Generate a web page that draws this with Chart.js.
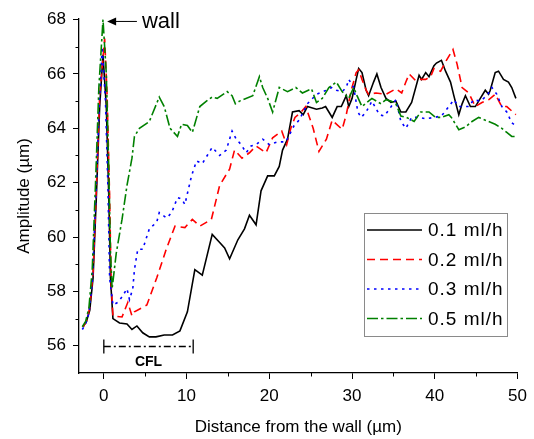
<!DOCTYPE html>
<html>
<head>
<meta charset="utf-8">
<script src="https://cdn.jsdelivr.net/npm/chart.js@4"></script>
<style>
  html, body { margin: 0; padding: 0; background: #fff; }
</style>
</head>
<body>
<canvas id="chart" width="534" height="439"></canvas>
<script>
// flow rates shown in the legend
const seriesNames = ["0.1 ml/h", "0.2 ml/h", "0.3 ml/h", "0.5 ml/h"];

// 0.1 ml/h
const x01 = [-2.5,-2.1,-1.7,-1.3,-0.9,-0.5,-0.1,0.3,0.6,0.8,1.1,1.9,2.8,3.4,4.0,4.7,5.5,6.3,7.3,8.3,9.2,10.1,11.0,11.9,13.1,14.0,14.6,15.2,16.2,17.0,17.6,18.4,19.0,19.8,20.6,21.2,21.6,22.2,22.8,23.6,24.1,24.6,25.7,26.4,26.8,27.2,27.6,28.2,28.7,29.0,29.3,29.6,30.0,30.5,30.8,31.2,31.7,32.0,32.6,33.0,33.5,34.1,34.7,35.3,35.9,36.5,37.2,38.1,38.4,38.9,39.3,39.9,40.2,40.8,41.3,41.9,42.3,42.9,43.3,43.7,44.3,44.9,45.5,46.1,46.5,46.7,47.3,47.7,48.3,48.9,49.3,49.8];
const y01 = [56.7,56.9,57.3,58.5,61.5,64.8,66.7,64.8,61.5,58.5,57.0,56.84,56.8,56.6,56.73,56.48,56.33,56.33,56.4,56.4,56.55,57.25,58.8,58.6,60.1,59.8,59.6,59.2,59.9,60.3,60.8,60.45,61.7,62.25,62.25,62.6,63.2,63.6,64.6,64.65,64.5,64.8,64.7,64.75,64.8,64.6,64.4,64.8,64.8,65.0,65.2,64.8,65.1,65.8,66.2,66.05,65.4,65.2,65.7,66.0,65.5,65.1,64.95,65.0,64.6,64.6,64.95,65.95,65.8,66.05,65.9,66.3,66.4,66.5,66.1,65.7,65.2,64.5,64.9,65.2,64.8,64.8,65.1,65.4,65.25,65.4,66.05,66.1,65.8,65.7,65.5,65.1];

// 0.2 ml/h
const x02 = [-2.5,-2.1,-1.7,-1.3,-0.9,-0.5,0.1,0.4,0.7,0.9,1.1,2.2,2.9,3.4,3.7,4.6,5.2,6.4,7.6,8.6,9.8,10.7,11.6,13.0,14.0,15.2,15.8,16.7,17.6,18.4,19.6,20.4,21.5,22.1,22.6,23.1,23.7,24.4,25.3,26.0,26.9,27.6,28.8,29.3,29.9,30.5,30.8,31.2,31.7,32.0,32.9,34.1,35.3,36.0,36.5,36.9,37.7,38.3,38.9,39.5,39.9,40.7,41.4,42.2,42.7,43.3,44.1,44.9,45.7,46.5,47.3,48.1,48.7,49.8];
const y02 = [56.7,56.9,57.4,58.7,61.8,65.2,67.3,65.2,61.5,58.2,57.1,57.06,57.6,57.1,57.25,57.4,57.5,58.5,59.6,60.4,60.35,60.65,60.4,60.65,61.9,62.5,63.2,62.9,63.1,63.35,63.1,63.65,63.9,63.4,64.0,64.4,64.55,64.8,64.0,63.15,63.6,64.3,63.96,64.5,65.4,66.05,66.15,65.8,65.4,65.25,65.3,65.25,65.45,65.3,65.7,66.0,65.75,65.8,65.8,65.9,66.2,66.1,66.5,66.9,66.35,65.5,65.3,64.8,64.95,65.05,65.25,64.8,64.8,64.5];

// 0.3 ml/h
const x03 = [-2.6,-2.2,-1.8,-1.4,-1.0,-0.6,-0.2,0.2,0.5,0.7,1.1,1.7,2.2,2.8,3.1,3.5,3.7,4.1,4.7,5.5,6.4,6.7,7.6,8.2,8.9,9.4,9.8,10.1,10.6,11.2,11.9,12.5,13.1,14.0,14.8,15.5,16.0,16.6,17.2,17.8,18.4,19.2,20.0,21.0,22.0,23.0,23.6,24.6,25.7,26.9,27.5,28.1,28.8,29.3,29.6,30.2,30.7,31.1,31.7,32.4,33.3,33.9,34.5,35.3,35.9,36.5,37.2,38.1,38.9,39.9,40.8,41.7,42.3,42.9,44.1,44.7,45.5,46.3,46.9,47.5,48.1,48.7,49.3,49.8];
const y03 = [56.6,56.8,57.2,58.3,61.2,64.5,67.0,65.0,61.8,58.5,57.5,57.6,57.8,58.1,57.7,58.1,58.8,59.55,59.55,60.3,60.55,60.9,60.7,60.9,61.45,61.4,61.2,61.6,62.25,62.8,62.7,63.0,63.3,63.0,63.2,63.9,63.6,63.4,63.1,63.35,63.4,63.6,63.4,63.5,63.5,64.1,64.3,64.9,65.25,65.4,65.5,65.4,65.35,65.5,65.8,65.5,64.6,64.4,64.6,65.0,64.5,64.45,64.7,65.05,64.25,64.0,64.4,64.4,64.35,64.4,64.45,64.8,65.05,64.8,64.8,65.05,65.0,65.2,65.5,65.25,64.8,64.6,64.2,64.1];

// 0.5 ml/h
const x05 = [-2.6,-2.2,-1.8,-1.4,-1.0,-0.6,-0.1,0.3,0.6,0.8,1.0,1.5,2.2,2.8,3.4,3.7,4.3,5.5,6.7,7.3,8.0,8.9,9.4,10.1,10.7,11.6,12.4,13.1,13.7,14.9,15.5,15.9,16.4,18.0,18.8,19.2,19.8,20.4,21.2,22.2,23.2,24.0,25.1,25.7,26.4,27.2,28.1,28.8,29.6,30.2,30.6,31.2,31.8,32.4,33.5,34.1,34.7,35.3,35.9,36.6,37.5,38.3,39.3,40.1,40.8,41.7,42.0,42.5,42.9,43.7,44.5,45.3,46.5,47.3,48.1,48.7,49.3,49.8];
const y05 = [56.7,56.9,57.4,58.8,62.0,65.5,68.0,66.0,62.5,59.5,58.1,59.4,60.65,61.9,62.9,63.7,64.0,64.25,65.15,64.8,64.0,63.7,64.15,64.1,63.85,64.8,65.0,65.15,65.1,65.35,65.2,64.9,65.0,65.2,65.9,65.5,65.1,64.6,65.5,65.35,65.5,65.3,65.45,64.95,65.1,65.5,65.7,65.35,65.1,65.5,65.2,64.8,64.95,65.1,64.9,65.05,65.0,64.9,64.45,64.4,64.25,64.6,64.6,64.4,64.4,64.5,64.4,64.15,63.95,64.05,64.25,64.4,64.25,64.15,64.0,63.85,63.7,63.7];

// axis ticks
const xTicks = [0, 10, 20, 30, 40, 50];
const xMinorTicks = [5, 15, 25, 35, 45];
const yTicks = [56, 58, 60, 62, 64, 66, 68];
const yMinorTicks = [57, 59, 61, 63, 65, 67];

// annotations (data units)
const wallArrow = { x0: 0.4, x1: 4.0, y: 67.93, label: "wall", labelX: 4.6 };
const cflBar = { x0: 0, x1: 10.8, y: 56.0, label: "CFL" };

const FONT = "Arial, 'Liberation Sans', sans-serif";
const colors = ["#000000", "#ff0000", "#0000ff", "#008000"];
const dashes = [[], [8, 5], [2.5, 4.5], [11, 3, 2.5, 3]];
const xs = [x01, x02, x03, x05];
const ys = [y01, y02, y03, y05];

const datasets = seriesNames.map((name, i) => ({
  label: name,
  data: xs[i].map((x, j) => ({ x: x, y: ys[i][j] })),
  borderColor: colors[i],
  borderDash: dashes[i],
  borderWidth: 1.6,
  pointRadius: 0,
  tension: 0,
  fill: false,
  clip: 6,
  order: 4 - i
}));

const extras = {
  id: "extras",
  afterDraw(chart) {
    const ctx = chart.ctx;
    const sx = chart.scales.x, sy = chart.scales.y;
    const ca = chart.chartArea;
    ctx.save();

    // minor ticks
    ctx.strokeStyle = "#000";
    ctx.lineWidth = 1;
    ctx.beginPath();
    xMinorTicks.forEach(v => {
      const px = Math.round(sx.getPixelForValue(v)) + 0.5;
      ctx.moveTo(px, ca.bottom);
      ctx.lineTo(px, ca.bottom + 3.5);
    });
    yMinorTicks.forEach(v => {
      const py = Math.round(sy.getPixelForValue(v)) + 0.5;
      ctx.moveTo(ca.left, py);
      ctx.lineTo(ca.left - 3.5, py);
    });
    ctx.stroke();

    // wall arrow
    const ax0 = sx.getPixelForValue(wallArrow.x0);
    const ax1 = sx.getPixelForValue(wallArrow.x1);
    const ay = sy.getPixelForValue(wallArrow.y);
    ctx.beginPath();
    ctx.moveTo(ax0 + 7, ay);
    ctx.lineTo(ax1, ay);
    ctx.stroke();
    ctx.beginPath();
    ctx.moveTo(ax0, ay);
    ctx.lineTo(ax0 + 9, ay - 4);
    ctx.lineTo(ax0 + 9, ay + 4);
    ctx.closePath();
    ctx.fillStyle = "#000";
    ctx.fill();
    ctx.font = "22px " + FONT;
    ctx.textBaseline = "middle";
    ctx.textAlign = "left";
    ctx.fillText(wallArrow.label, sx.getPixelForValue(wallArrow.labelX), ay);

    // CFL bar
    const c0 = sx.getPixelForValue(cflBar.x0);
    const c1 = sx.getPixelForValue(cflBar.x1);
    const cy = Math.round(sy.getPixelForValue(cflBar.y)) + 0.5;
    ctx.lineWidth = 1.3;
    ctx.beginPath();
    ctx.moveTo(c0, cy - 7); ctx.lineTo(c0, cy + 7);
    ctx.moveTo(c1, cy - 7); ctx.lineTo(c1, cy + 7);
    ctx.stroke();
    ctx.setLineDash([7, 3, 2, 3]);
    ctx.beginPath();
    ctx.moveTo(c0, cy); ctx.lineTo(c1, cy);
    ctx.stroke();
    ctx.setLineDash([]);
    ctx.font = "bold 14px " + FONT;
    ctx.textAlign = "center";
    ctx.fillText(cflBar.label, (c0 + c1) / 2, cy + 16);

    // legend
    const bx = ca.left + 285, by = ca.top + 194, bw = 143, bh = 123;
    ctx.fillStyle = "#fff";
    ctx.fillRect(bx, by, bw, bh);
    ctx.strokeStyle = "#8a8a8a";
    ctx.lineWidth = 1;
    ctx.strokeRect(bx + 0.5, by + 0.5, bw, bh);
    ctx.font = "19px " + FONT;
    ctx.letterSpacing = "1px";
    ctx.textAlign = "left";
    ctx.textBaseline = "middle";
    chart.data.datasets.forEach((ds, i) => {
      const ry = by + 17 + i * 29.5;
      ctx.strokeStyle = ds.borderColor;
      ctx.lineWidth = 1.6;
      ctx.setLineDash(ds.borderDash);
      ctx.beginPath();
      ctx.moveTo(bx + 3, ry);
      ctx.lineTo(bx + 58, ry);
      ctx.stroke();
      ctx.setLineDash([]);
      ctx.fillStyle = "#000";
      ctx.fillText(ds.label, bx + 64, ry + 1);
    });
    ctx.letterSpacing = "0px";
    ctx.restore();
  }
};

new Chart(document.getElementById("chart"), {
  type: "line",
  data: { datasets: datasets },
  options: {
    responsive: false,
    animation: false,
    layout: { padding: { top: 19, right: 15, left: 0, bottom: 0 } },
    plugins: { legend: { display: false }, tooltip: { enabled: false } },
    scales: {
      x: {
        type: "linear",
        min: -3,
        max: 50,
        afterBuildTicks: s => { s.ticks = xTicks.map(v => ({ value: v })); },
        afterFit: s => { s.height = 66; },
        grid: { drawOnChartArea: false, color: "#000", tickLength: 6, lineWidth: 1 },
        border: { color: "#000", width: 1.3 },
        ticks: { color: "#000", font: { family: FONT, size: 17 }, padding: 7, maxRotation: 0 },
        title: { display: true, text: "Distance from the wall (µm)", color: "#000",
                 font: { family: FONT, size: 17 }, padding: { top: 4, bottom: 1 } }
      },
      y: {
        min: 55,
        max: 68.02,
        afterBuildTicks: s => { s.ticks = yTicks.map(v => ({ value: v })); },
        afterFit: s => { s.width = 79; },
        grid: { drawOnChartArea: false, color: "#000", tickLength: 6, lineWidth: 1 },
        border: { color: "#000", width: 1.3 },
        ticks: { color: "#000", font: { family: FONT, size: 17 }, padding: 7 },
        title: { display: true, text: "Amplitude (µm)", color: "#000",
                 font: { family: FONT, size: 17 }, padding: { top: 14, bottom: 4 } }
      }
    }
  },
  plugins: [extras]
});
</script>
</body>
</html>
